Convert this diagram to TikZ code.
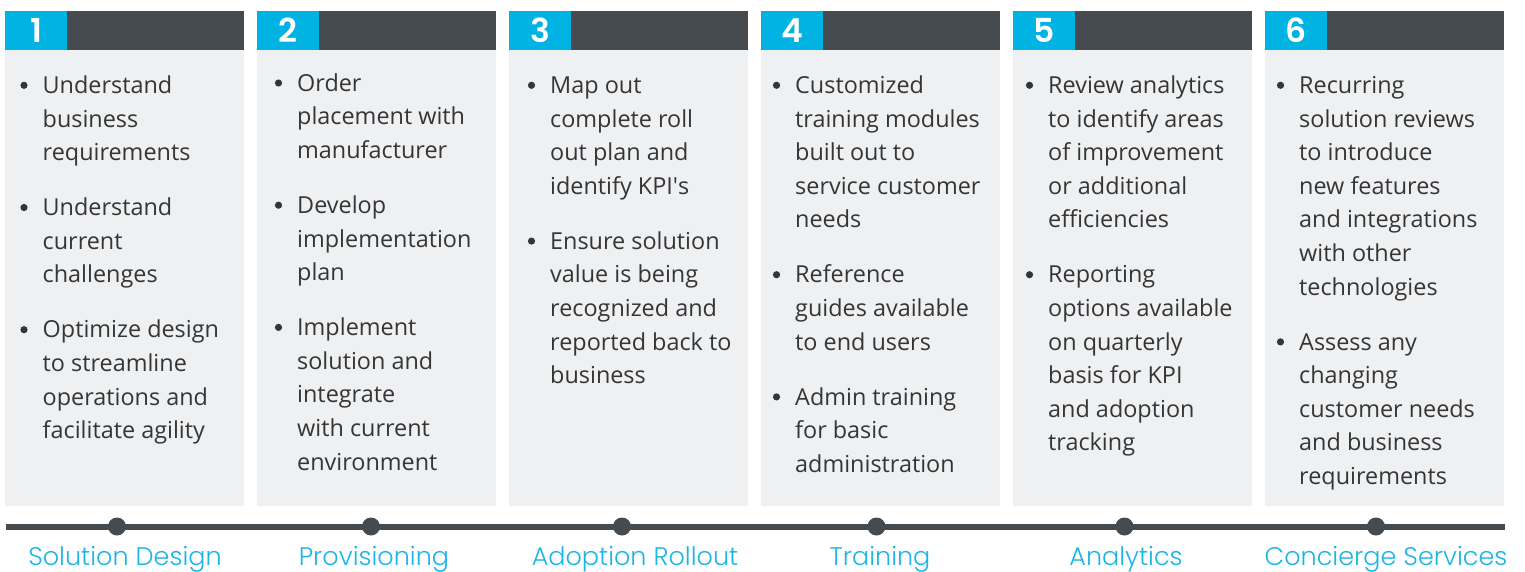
\documentclass[tikz,border=0pt]{standalone}
\usepackage{fontspec}
\setmainfont{Open Sans}
\newfontfamily\tagfont{Poppins}[UprightFont=* Light]
\newfontfamily\digitfont{Poppins}[UprightFont=* SemiBold]

\definecolor{numblue}{HTML}{00B3E3}
\definecolor{headgrey}{HTML}{454B4E}
\definecolor{bodygrey}{HTML}{EFF0F2}
\definecolor{bodytext}{HTML}{353535}
\definecolor{labelblue}{HTML}{1CB5E6}

% one bullet item: name, text x, first baseline y, lines
\newcommand\bitem[4]{%
  \fill[bodytext] (#2-18.5,#3-8) circle (3.6pt);
  \node[itemtext] (#1) at (#2,#3-20) {\rule{0pt}{20pt}#4};
}

\begin{document}
\begin{tikzpicture}[x=1pt,y=-1pt,
  itemtext/.style={anchor=north west, inner sep=0pt, align=left,
    font=\fontsize{23.4}{33.6}\selectfont, text=bodytext},
  numtext/.style={inner sep=0pt, text=white,
    font=\digitfont\fontsize{33}{33}\selectfont},
  steplabel/.style={anchor=base, inner sep=0pt, text=labelblue,
    font=\tagfont\fontsize{25.5}{25.5}\selectfont},
  stepdot/.style={circle, fill=headgrey, minimum size=18pt, inner sep=0pt}]
\useasboundingbox (0,0) rectangle (1525,572);

% panels with headers and numbers
\foreach \i in {1,...,6} {
  \pgfmathsetmacro\xl{5+(\i-1)*252}
  \fill[bodygrey] (\xl,50) rectangle (\xl+239,506);
  \fill[headgrey] (\xl,11) rectangle (\xl+239,50);
  \fill[numblue] (\xl,11) rectangle (\xl+62,50);
  \node[numtext] (num\i) at (\xl+31,30.5) {\i};
}

% panel 1
\bitem{pa1}{42.5}{93.3}{Understand\\business\\requirements}
\bitem{pa2}{42.5}{215.5}{Understand\\current\\challenges}
\bitem{pa3}{42.5}{337.7}{Optimize design\\to streamline\\operations and\\facilitate agility}

% panel 2
\bitem{pb1}{297}{91}{Order\\placement with\\manufacturer}
\bitem{pb2}{297}{213.2}{Develop\\implementation\\plan}
\bitem{pb3}{297}{335.4}{Implement\\solution and\\integrate\\with current\\environment}

% panel 3
\bitem{pc1}{550}{93.3}{Map out\\complete roll\\out plan and\\identify KPI\textquotesingle s}
\bitem{pc2}{550}{249.1}{Ensure solution\\value is being\\recognized and\\reported back to\\business}

% panel 4
\bitem{pd1}{795}{93.3}{Customized\\training modules\\built out to\\service customer\\needs}
\bitem{pd2}{795}{282.7}{Reference\\guides available\\to end users}
\bitem{pd3}{795}{404.9}{Admin training\\for basic\\administration}

% panel 5
\bitem{pe1}{1048}{93.3}{Review analytics\\to identify areas\\of improvement\\or additional\\efficiencies}
\bitem{pe2}{1048}{282.7}{Reporting\\options available\\on quarterly\\basis for KPI\\and adoption\\tracking}

% panel 6
\bitem{pf1}{1299}{93.3}{Recurring\\solution reviews\\to introduce\\new features\\and integrations\\with other\\technologies}
\bitem{pf2}{1299}{349.9}{Assess any\\changing\\customer needs\\and business\\requirements}

% timeline
\coordinate (tlstart) at (6,527);
\coordinate (tlend) at (1505,527);
\draw[headgrey, line width=5.5pt] (tlstart) -- (tlend);
\foreach \n/\dx/\lx/\txt in {1/117/125/Solution Design,
                             2/371/374/Provisioning,
                             3/622/635/Adoption Rollout,
                             4/876.5/880/Training,
                             5/1124.5/1126/Analytics,
                             6/1376/1386/Concierge Services} {
  \node[stepdot] (dot\n) at (\dx,526.5) {};
  \node[steplabel] (lab\n) at (\lx,565) {\txt};
}
\end{tikzpicture}
\end{document}
